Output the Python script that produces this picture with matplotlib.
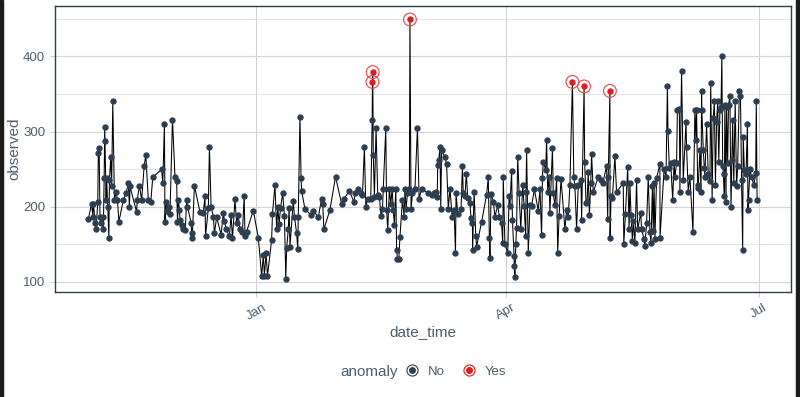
import matplotlib
matplotlib.use("Agg")
import matplotlib.pyplot as plt
from matplotlib.lines import Line2D
from matplotlib.legend_handler import HandlerTuple
from matplotlib.patches import Rectangle
import numpy as np
import pandas as pd

plt.rcParams['font.family'] = ['Liberation Sans', 'DejaVu Sans']

days = [
    -60.4, -59.2, -58.8, -58.6, -57.9, -57.6, -57.0, -56.8, -56.5, -56.2,
    -55.9, -55.2, -55.0, -54.7, -54.5, -54.4, -54.0, -53.8, -53.4, -53.0,
    -52.8, -52.3, -52.0, -51.6, -51.0, -50.4, -49.9, -49.4, -47.8, -46.8,
    -46.0, -45.6, -45.4, -43.0, -42.8, -42.0, -41.2, -40.3, -39.7, -38.8,
    -37.9, -37.2, -34.0, -33.6, -33.0, -32.8, -32.5, -31.9, -31.2, -31.0,
    -30.1, -29.2, -28.6, -28.3, -28.0, -27.6, -27.4, -26.8, -26.2, -25.5,
    -25.0, -24.7, -23.4, -23.2, -23.0, -22.2, -20.2, -19.0, -18.4, -18.2,
    -17.2, -16.8,
    -16.2, -15.4, -15.0, -14.2, -12.6, -11.8, -11.4, -10.8, -9.6, -9.0,
    -8.5, -7.6, -7.0, -6.4, -5.8, -4.9, -4.3, -4.0, -3.4, -1.0,
    0.8, 2.0, 2.6, 3.0, 3.6, 4.1, 5.6, 5.9, 6.8, 7.4,
    7.8, 8.3, 8.8, 9.6, 10.2, 10.7, 11.0, 11.6, 11.9, 12.2,
    13.4, 13.8, 14.6, 15.0, 15.2, 15.8, 16.2, 16.4, 17.6, 19.8,
    20.6, 22.4, 23.6, 24.0, 24.4, 26.6, 28.6,
    30.8, 31.7, 33.6, 35.3, 35.6, 36.6, 37.7, 38.3, 39.0, 39.5,
    40.2, 41.3, 41.8, 41.9, 42.0, 42.2, 42.6, 43.2, 43.8, 44.4,
    45.0, 45.5, 45.8, 46.7, 47.0, 47.4, 48.0, 48.5, 49.0, 49.4,
    49.8, 50.3, 50.6, 50.9, 51.4, 51.8, 52.7, 53.3, 53.6, 54.0,
    54.5, 55.2, 55.4, 55.8, 56.3, 57.2, 58.1, 58.7, 59.6, 62.0,
    63.2, 64.1, 64.8, 65.2, 65.4, 65.8, 66.2, 66.5, 66.8, 68.0,
    68.6, 69.2, 69.8, 70.6, 71.3, 71.8, 72.0, 72.6,
    73.8, 74.3, 74.6, 75.2, 75.7, 76.2, 77.0, 77.4, 77.9, 77.95,
    78.5, 79.1, 79.4, 81.2, 83.0, 83.6, 84.0, 84.2, 84.6, 85.4,
    86.0, 87.0, 87.6, 88.4, 88.8, 89.0, 89.6, 90.6, 91.1, 91.4,
    92.0, 92.3, 92.9, 92.95, 93.2, 93.5, 93.8, 94.2, 94.7, 95.3,
    96.0, 96.5, 97.1, 97.2, 97.4, 98.0, 98.6, 99.2, 100.2, 101.6,
    102.2, 102.8, 103.1, 103.4, 104.3, 104.6, 105.0, 105.5, 105.8, 106.7,
    107.0, 107.6, 108.2, 108.6, 109.1, 109.8, 111.2, 111.8, 112.4, 113.0,
    113.9, 114.4, 114.8, 115.4, 116.0, 117.0, 117.2,
    118.1, 118.3, 118.8, 119.2, 119.6, 120.0, 120.5, 120.8, 121.4, 123.2,
    124.1, 124.8, 126.2, 126.6, 126.8, 127.4, 127.45, 127.8, 128.3, 129.2,
    129.8, 132.2, 132.4, 133.0, 133.8, 134.3, 134.6, 135.0, 135.5, 135.8,
    136.4, 137.0, 137.4, 138.5, 138.8, 139.7, 140.0, 140.6, 141.2, 141.8,
    142.2, 142.7, 143.0, 143.3, 143.6, 144.2, 145.4, 145.45, 146.9, 147.6,
    148.1, 148.3, 148.8, 149.3, 150.0, 150.5, 150.8, 151.4, 151.7, 152.4,
    152.6, 153.2, 153.8, 154.8, 155.0, 155.6,
    156.2, 157.3, 158.0, 158.4, 158.6, 159.0, 159.2, 159.8, 160.2, 160.4,
    160.5, 161.0, 161.4, 161.6, 162.2, 162.8, 163.4, 163.7, 164.2, 164.6,
    165.0, 165.4, 165.8, 166.2, 166.6, 167.0, 167.4, 167.7, 168.0, 168.3,
    168.6, 168.8, 169.2, 169.4, 169.8, 170.1, 170.6, 171.0, 171.3, 171.6,
    172.0, 172.5, 173.0, 173.4, 174.0, 174.4, 174.8, 175.2, 175.4, 175.8,
    176.4, 176.9, 177.1, 177.3, 177.8, 178.4, 179.2, 179.9, 180.1, 180.4,
]

observed = [
    184, 204, 187, 204, 179, 170, 206, 271, 278, 187,
    178, 187, 170, 238, 306, 288, 209, 238, 200, 159,
    236, 266, 227, 340, 209, 219, 209, 180, 209, 218,
    231, 200, 227, 193, 209, 228, 209, 254, 269, 209,
    207, 239, 250, 231, 310, 180, 207, 195, 200, 191,
    316, 240, 234, 180, 209, 196, 183, 176, 170, 169,
    209, 200, 179, 165, 158, 228, 193, 192, 214, 161,
    198, 279,
    200, 187, 165, 186, 163, 192, 181, 170, 161, 189,
    158, 210, 178, 189, 170, 167, 214, 161, 167, 195,
    159, 108, 136, 108, 139, 108, 156, 191, 229, 170,
    200, 177, 199, 218, 188, 104, 145, 170, 199, 147,
    208, 187, 165, 144, 187, 320, 238, 221, 197, 189,
    195, 186, 211, 204, 170, 196, 240,
    204, 211, 221, 206, 218, 224, 218, 215, 279, 200,
    211, 211, 315, 366, 379, 269, 213, 305, 215, 213,
    188, 197, 224, 305, 196, 169, 224, 204, 224, 196,
    176, 224, 143, 131, 131, 160, 209, 187, 224, 197,
    218, 224, 449, 197, 218, 224, 305, 211, 224, 218,
    215, 218, 220, 213, 255, 262, 280, 197, 275, 266,
    257, 197, 224, 187, 196, 138, 218, 191,
    197, 254, 218, 214, 244, 212, 205, 185, 178, 143,
    220, 161, 147, 180, 216, 239, 158, 132, 217, 207,
    187, 202, 187, 178, 152, 239, 150, 139, 214, 201,
    247, 183, 134, 121, 107, 150, 172, 266, 218, 170,
    229, 201, 161, 220, 276, 139, 202, 201, 223, 195,
    224, 162, 238, 260, 249, 289, 220, 240, 192, 278,
    218, 202, 238, 139, 188, 237, 170, 196, 187, 229,
    366, 240, 227, 170, 229, 236, 183,
    360, 260, 205, 207, 246, 189, 231, 270, 219, 240,
    236, 231, 254, 184, 240, 354, 158, 214, 212, 267,
    219, 232, 151, 191, 253, 170, 231, 189, 155, 181,
    152, 235, 170, 192, 170, 157, 148, 178, 239, 166,
    152, 227, 168, 231, 157, 238, 257, 159, 250, 240,
    361, 301, 251, 258, 209, 259, 240, 258, 329, 330,
    220, 380, 236, 313, 279, 220,
    240, 167, 329, 289, 329, 229, 225, 276, 220, 354,
    329, 276, 251, 240, 310, 243, 234, 365, 209, 318,
    340, 229, 313, 340, 260, 329, 333, 400, 254, 243,
    214, 335, 207, 333, 258, 335, 347, 200, 262, 316,
    231, 340, 227, 254, 354, 347, 236, 143, 293, 249,
    243, 310, 196, 209, 250, 240, 229, 245, 340, 209,
]

# points flagged as anomalies
anomaly_days = [41.9, 42.0, 55.4, 113.9, 118.1, 127.4]

navy = "#2c3e50"
red = "#e31a1c"

base = pd.Timestamp("2019-01-01")
dates = base + pd.to_timedelta(np.array(days), unit="D")
obs = np.array(observed)
is_anom = np.isin(np.array(days), anomaly_days)

fig = plt.figure(figsize=(8, 3.97), dpi=100)
ax = fig.add_axes([0.06875, 0.2645, 0.92, 0.7205])

ax.plot(dates, obs, color="black", lw=0.75, zorder=2)
ax.scatter(dates[~is_anom], obs[~is_anom], s=21, color=navy, zorder=3, linewidths=0)
ax.scatter(dates[is_anom], obs[is_anom], s=21, color=red, zorder=4, linewidths=0)
ax.scatter(dates[is_anom], obs[is_anom], s=85, facecolors="none", edgecolors="#e8464a",
           linewidths=0.8, zorder=4)

ax.set_xlim(base + pd.Timedelta(days=-72.4), base + pd.Timedelta(days=192.6))
ax.set_ylim(86.7, 467)

xt = [pd.Timestamp("2019-01-01"), pd.Timestamp("2019-04-01"), pd.Timestamp("2019-07-01")]
ax.set_xticks(xt)
ax.set_xticklabels(["Jan", "Apr", "Jul"], rotation=30, ha="center")
ax.set_yticks([100, 200, 300, 400])
ax.set_yticks([150, 250, 350, 450], minor=True)

ax.grid(which="major", color="#d4d4d4", lw=0.8, zorder=0)
ax.grid(which="minor", axis="y", color="#e0e0e0", lw=0.6, zorder=0)
ax.set_axisbelow(True)

ax.tick_params(axis="both", which="major", length=3.5, color="#cfcfcf",
               labelcolor="#4e5d6c", labelsize=9.5)
ax.tick_params(axis="both", which="minor", length=0)
for s in ax.spines.values():
    s.set_color(navy)
    s.set_linewidth(1.0)

ax.set_xlabel("date_time", fontsize=11, color="#4e5d6c", labelpad=2)
ax.set_ylabel("observed", fontsize=11, color="#4e5d6c", labelpad=1)

# legend at the bottom, title on the left
fig.text(0.462, 0.064, "anomaly", ha="center", va="center", fontsize=11, color="#4e5d6c")
h_no = (Line2D([], [], ls="none", marker="o", ms=8, mfc="none", mec=navy, mew=0.8),
        Line2D([], [], ls="none", marker="o", ms=4, mfc=navy, mec=navy))
h_yes = (Line2D([], [], ls="none", marker="o", ms=8, mfc="none", mec=red, mew=0.8),
         Line2D([], [], ls="none", marker="o", ms=4, mfc=red, mec=red))
leg = fig.legend([h_no, h_yes], ["No", "Yes"], loc="center left",
                 bbox_to_anchor=(0.507, 0.064), ncol=2, frameon=False,
                 handler_map={tuple: HandlerTuple(ndivide=1, pad=0)},
                 handlelength=1.0, handletextpad=0.7, columnspacing=1.3,
                 fontsize=9.5, borderaxespad=0, borderpad=0)
for t in leg.get_texts():
    t.set_color("#4e5d6c")

# dark screenshot edges
fig.patches.append(Rectangle((0, 0), 3 / 800, 1, transform=fig.transFigure, color="#1c1c1c"))
fig.patches.append(Rectangle((796 / 800, 0), 4 / 800, 1, transform=fig.transFigure, color="#1c1c1c"))

fig.savefig("out.png", dpi=100)
